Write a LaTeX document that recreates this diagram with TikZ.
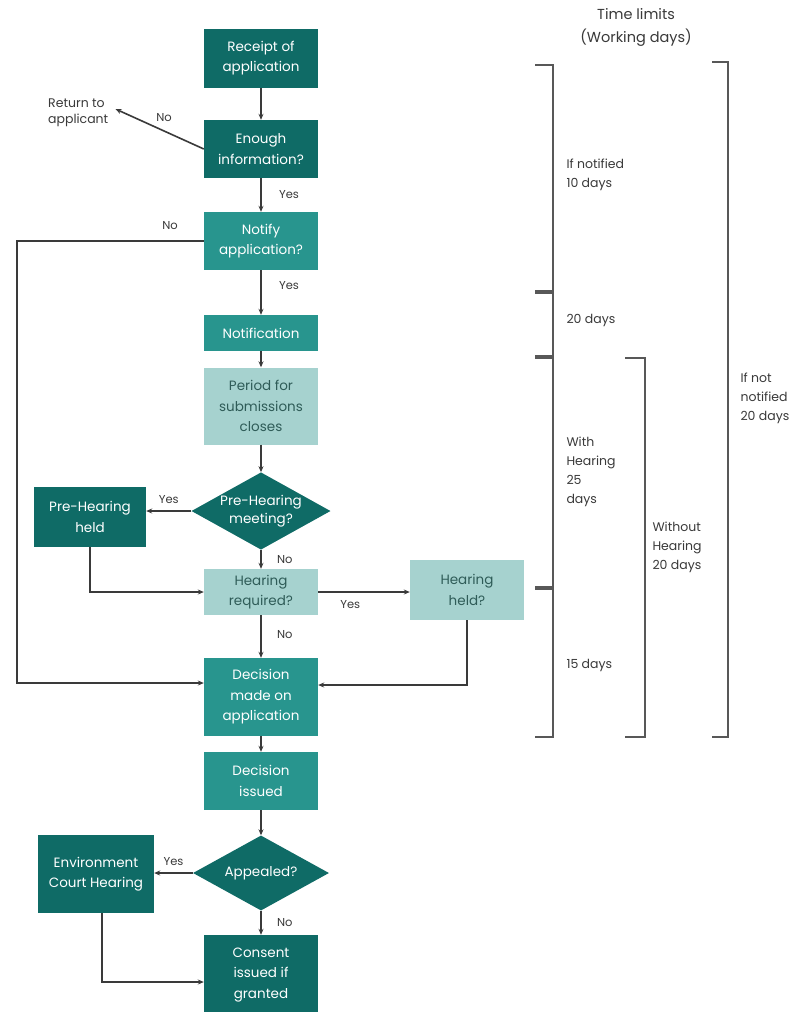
\documentclass[tikz,border=0pt]{standalone}
\usepackage{fontspec}
\setmainfont{Poppins}
\usetikzlibrary{shapes.geometric,arrows.meta}
\definecolor{dk}{HTML}{0F6B66}
\definecolor{md}{HTML}{28958E}
\definecolor{lt}{HTML}{A6D2CF}
\definecolor{ln}{HTML}{3A3A3A}
\definecolor{ltx}{HTML}{2F5C58}
\begin{document}
\begin{tikzpicture}[x=1pt,y=-1pt,
  box/.style={rectangle, minimum width=114pt, inner sep=2pt, align=center, font=\fontsize{13.5}{20.5}\selectfont},
  dkbox/.style={box, fill=dk, text=white},
  mdbox/.style={box, fill=md, text=white},
  ltbox/.style={box, fill=lt, text=ltx},
  dia/.style={diamond, shape aspect=1.8, fill=dk, text=white, inner sep=0pt, align=center, font=\fontsize{13.5}{18}\selectfont},
  conn/.style={draw=ln, line width=1.6pt, -{Stealth[length=6pt,width=5pt]}},
  lbl/.style={font=\fontsize{11.5}{13}\selectfont, text=ln},
  brk/.style={draw=ln!85, line width=2pt},
  tick/.style={draw=ln!85, line width=4.5pt},
  tlbl/.style={font=\fontsize{12.5}{19}\selectfont, align=left, anchor=west, text=ln}
]
\useasboundingbox[fill=white] (0,0) rectangle (803,1012);

% main column
\node[dkbox, minimum height=59pt] (receipt) at (261,58) {Receipt of\\application};
\node[dkbox, minimum height=58pt] (enough) at (261,149) {Enough\\information?};
\node[mdbox, minimum height=58pt] (notify) at (261,241) {Notify\\application?};
\node[mdbox, minimum height=36pt] (notif) at (261,333) {Notification};
\node[ltbox, minimum height=77pt] (period) at (261,406) {Period for\\submissions\\closes};
\node[dia, minimum width=136pt, minimum height=76pt] (prehear) at (261,511) {Pre-Hearing\\meeting?};
\node[dkbox, minimum width=112pt, minimum height=60pt] (preheld) at (90,517) {Pre-Hearing\\held};
\node[ltbox, minimum height=46pt] (hearreq) at (261,592) {Hearing\\required?};
\node[ltbox, minimum height=60pt] (hearheld) at (467,590) {Hearing\\held?};
\node[mdbox, minimum height=78pt] (decision) at (261,697) {Decision\\made on\\application};
\node[mdbox, minimum height=58pt] (decissued) at (261,781) {Decision\\issued};
\node[dia, minimum width=136pt, minimum height=75pt] (appealed) at (261,873) {Appealed?};
\node[dkbox, minimum width=116pt, minimum height=78pt] (envcourt) at (96,874) {Environment\\Court Hearing};
\node[dkbox, minimum height=80pt] (consent) at (261,975) {Consent\\issued if\\granted};

\node[font=\fontsize{12.5}{16}\selectfont, align=left, text=ln, anchor=west, inner sep=1pt] (return) at (47,113) {Return to\\applicant};

% connectors
\draw[conn] (receipt) -- (enough);
\draw[conn] (enough.west) -- ([xshift=6pt,yshift=4pt]return.east) node[lbl, pos=0.45, above=5pt] {No};
\draw[conn] (enough) -- (notify) node[lbl, midway, right=14pt] {Yes};
\draw[conn] (notify) -- (notif) node[lbl, pos=0.35, right=14pt] {Yes};
\draw[conn] (notif) -- (period);
\draw[conn] (period) -- (prehear);
\draw[conn] (prehear.west) -- (prehear.west -| preheld.east) node[lbl, midway, above=3pt] {Yes};
\draw[conn] (prehear.south) -- (hearreq.north) node[lbl, pos=0.5, right=12pt] {No};
\draw[conn] (preheld.south) |- (hearreq.west);
\draw[conn] (hearreq.east) -- (hearreq.east -| hearheld.west) node[lbl, pos=0.35, below=4pt] {Yes};
\draw[conn] (hearreq) -- (decision) node[lbl, pos=0.45, right=12pt] {No};
\draw[conn] (notify.west) -- (17,241) |- ([yshift=14pt]decision.west);
\node[lbl] (nolbl) at (170,226) {No};
\draw[conn] (hearheld.south) |- ([yshift=12pt]decision.east);
\draw[conn] (decision) -- (decissued);
\draw[conn] (decissued) -- (appealed);
\draw[conn] (appealed.west) -- (appealed.west -| envcourt.east) node[lbl, midway, above=3pt] {Yes};
\draw[conn] (appealed.south) -- (consent.north) node[lbl, midway, right=12pt] {No};
\draw[conn] ([xshift=6pt]envcourt.south) |- ([yshift=-7pt]consent.west);

% time limits
\node[font=\fontsize{14.5}{23}\selectfont, align=center, text=ln] (title) at (636,27) {Time limits\\(Working days)};
\draw[brk] (535,65) -- (553,65) -- (553,737) -- (535,737);
\draw[tick] (535,292) -- (553,292);
\draw[tick] (535,357) -- (553,357);
\draw[tick] (535,588) -- (553,588);
\draw[brk] (625,358) -- (645,358) -- (645,737) -- (625,737);
\draw[brk] (712,62) -- (728,62) -- (728,737) -- (712,737);
\node[tlbl] (t1) at (563,175) {If notified\\10 days};
\node[tlbl] (t2) at (563,320) {20 days};
\node[tlbl] (t3) at (563,472) {With\\Hearing\\25\\days};
\node[tlbl] (t4) at (563,665) {15 days};
\node[tlbl] (t5) at (649,547) {Without\\Hearing\\20 days};
\node[tlbl] (t6) at (737,398) {If not\\notified\\20 days};
\end{tikzpicture}
\end{document}
